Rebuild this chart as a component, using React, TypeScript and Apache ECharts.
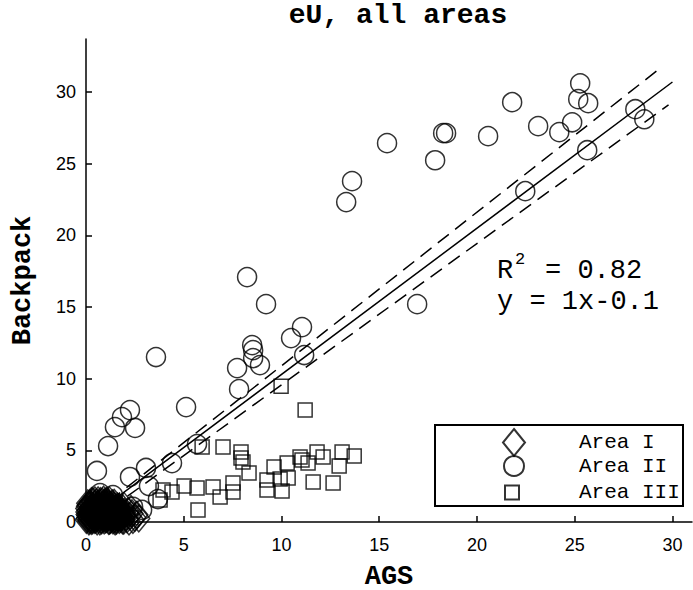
import React, { useEffect, useRef } from 'react';
import * as echarts from 'echarts';

const titleText = 'eU, all areas';
const xName = 'AGS';
const yName = 'Backpack';
const seriesNames = ['Area I', 'Area II', 'Area III'];
const xTicks = [0, 5, 10, 15, 20, 25, 30];
const yTicks = [0, 5, 10, 15, 20, 25, 30];
const r2Label = 'R';
const r2Sup = '2';
const r2Value = '= 0.82';
const eqLine = 'y = 1x-0.1';

const areaI: number[][] = [
  [0.12, 0.35], [0.18, 0.9], [0.22, 0.55], [0.25, 1.2], [0.3, 0.2], [0.33, 0.75], [0.38, 1.05],
  [0.41, 0.42], [0.45, 0.15], [0.48, 0.95], [0.5, 0.62], [0.52, 1.35], [0.55, 0.3], [0.58, 0.8],
  [0.6, 1.1], [0.63, 0.5], [0.66, 0.22], [0.68, 0.9], [0.7, 1.3], [0.72, 0.65], [0.75, 0.38],
  [0.78, 1.0], [0.8, 0.12], [0.82, 0.75], [0.85, 1.2], [0.88, 0.5], [0.9, 0.28], [0.92, 0.95],
  [0.95, 0.6], [0.98, 1.4], [1.0, 0.18], [1.02, 0.82], [1.05, 0.45], [1.08, 1.1], [1.1, 0.3],
  [1.12, 0.7], [1.15, 1.25], [1.18, 0.55], [1.2, 0.1], [1.22, 0.9], [1.25, 0.4], [1.28, 1.05],
  [1.3, 0.65], [1.33, 0.25], [1.36, 0.85], [1.4, 0.5], [1.42, 1.15], [1.45, 0.2], [1.48, 0.7],
  [1.52, 0.4], [1.55, 0.95], [1.6, 0.3], [1.65, 0.6], [1.7, 0.15], [1.75, 0.45], [1.8, 0.8],
  [1.9, 0.3], [2.0, 0.55], [2.1, 0.2], [2.25, 0.4], [2.4, 0.15], [0.15, 0.05], [0.35, 1.45],
  [0.62, 1.5], [0.9, 1.55], [1.2, 1.5], [0.05, 0.7], [0.08, 1.1], [2.3, 0.9], [2.6, 0.5],
  [2.7, 0.25], [1.95, 1.1],
  [0.07, 0.25], [0.14, 0.62], [0.2, 1.32], [0.27, 0.08], [0.29, 0.98], [0.36, 0.58], [0.43, 1.22],
  [0.47, 0.33], [0.53, 0.82], [0.57, 0.05], [0.61, 1.28], [0.64, 0.72], [0.69, 0.44], [0.73, 1.08],
  [0.77, 0.18], [0.79, 0.57], [0.83, 1.42], [0.86, 0.33], [0.89, 0.83], [0.93, 0.12], [0.97, 1.15],
  [0.99, 0.47], [1.03, 0.98], [1.06, 0.23], [1.09, 0.62], [1.13, 1.38], [1.16, 0.08], [1.19, 0.78],
  [1.23, 0.33], [1.27, 1.2], [1.31, 0.5], [1.34, 0.93], [1.38, 0.12], [1.41, 0.68], [1.44, 1.33],
  [1.47, 0.43], [1.5, 0.88], [1.54, 0.2], [1.57, 0.62], [1.62, 1.08], [1.67, 0.35], [1.72, 0.78],
  [1.78, 0.22], [1.83, 0.55], [1.88, 0.95], [1.93, 0.1], [1.97, 0.7], [2.05, 0.35], [2.15, 0.75],
  [2.2, 0.05], [2.35, 0.6], [2.5, 0.3], [0.1, 0.45], [0.16, 0.15], [0.24, 0.78], [0.31, 0.4],
  [0.4, 0.88], [0.44, 0.6], [0.51, 0.18], [0.56, 1.0], [0.65, 0.98], [0.71, 0.05], [0.76, 0.85],
  [0.84, 0.42], [0.91, 0.7], [0.96, 0.35], [1.01, 1.25], [1.07, 0.75], [1.11, 0.52], [1.17, 0.95],
  [1.21, 0.68], [1.26, 0.15], [1.32, 1.0], [1.37, 0.35], [1.43, 0.82], [1.49, 0.05], [1.53, 0.55],
  [1.58, 0.8], [1.63, 0.45], [1.68, 0.9], [1.73, 0.6], [1.82, 0.4], [1.87, 0.12], [0.04, 0.95],
  [0.09, 1.3], [0.28, 1.45], [0.46, 1.5], [0.74, 1.45], [1.05, 1.45], [1.35, 1.3],
  [0.02, 0.15], [0.06, 0.52], [0.11, 0.82], [0.13, 1.18], [0.19, 0.28], [0.21, 0.68], [0.26, 0.45],
  [0.32, 1.12], [0.34, 0.12], [0.37, 0.82], [0.42, 0.25], [0.49, 0.72], [0.54, 1.15], [0.59, 0.4],
  [0.67, 0.62], [0.81, 0.95], [0.87, 0.65], [0.94, 1.32], [1.04, 0.62], [1.14, 0.42], [1.24, 0.55],
  [1.29, 0.82], [1.39, 1.05], [1.46, 0.6], [1.56, 0.1], [1.61, 0.75], [1.71, 1.0], [1.77, 0.3]
];

const areaII: number[][] = [
  [25.28, 30.61], [25.18, 29.5], [25.69, 29.22], [21.8, 29.29], [28.1, 28.8], [28.56, 28.1],
  [23.13, 27.62], [24.21, 27.2], [24.87, 27.89], [18.27, 27.13], [18.42, 27.13], [20.57, 26.92],
  [15.4, 26.43], [25.64, 25.94], [17.86, 25.24], [22.47, 23.08], [13.61, 23.78], [13.31, 22.32],
  [8.24, 17.09], [16.94, 15.2], [9.21, 15.2], [11.05, 13.6], [10.49, 12.83], [8.5, 12.34],
  [8.55, 11.99], [8.55, 11.44], [8.9, 10.95], [7.73, 10.74], [11.16, 11.65], [7.83, 9.27],
  [3.58, 11.51], [5.12, 8.02], [2.25, 7.81], [1.84, 7.32], [1.48, 6.62], [2.51, 6.56],
  [1.13, 5.3], [5.68, 5.44], [0.56, 3.56], [4.4, 4.11], [3.07, 3.77], [2.25, 3.14],
  [3.22, 2.51], [3.68, 1.6], [2.87, 0.84], [0.72, 2.02], [1.38, 1.88], [2.41, 1.05],
  [0.9, 0.6], [0.4, 1.0], [1.6, 0.9], [2.0, 0.4]
];

const areaIII: number[][] = [
  [9.98, 9.48], [11.21, 7.81], [5.94, 5.23], [7.01, 5.23], [7.93, 4.88], [7.93, 4.46],
  [8.03, 4.18], [8.34, 3.42], [5.02, 2.51], [5.68, 2.37], [6.5, 2.44], [6.86, 1.74],
  [7.52, 2.72], [7.52, 2.09], [5.73, 0.84], [9.62, 3.84], [10.29, 4.11], [10.95, 4.53],
  [11.05, 4.32], [11.36, 4.11], [11.82, 4.88], [12.13, 4.53], [13.1, 4.88], [13.72, 4.6],
  [12.95, 3.91], [9.26, 2.93], [9.93, 3.0], [10.34, 3.07], [9.26, 2.23], [10.03, 2.16],
  [11.62, 2.79], [12.64, 2.72], [3.94, 2.23], [4.4, 2.09], [3.79, 1.53], [1.2, 0.5],
  [1.8, 0.8], [2.3, 0.3]
];

const fitLine: number[][] = [[0.3, 0.4], [30.0, 30.7]];
const upperBand: number[][] = [[0.3, 0.5], [29.5, 31.8]];
const lowerBand: number[][] = [[0.3, 0.0], [29.8, 29.1]];

const mono = "'Liberation Mono', 'Courier New', monospace";
const sans = "'Liberation Sans', Arial, sans-serif";

export default function App() {
  const ref = useRef<HTMLDivElement>(null);
  useEffect(() => {
    document.body.style.margin = '0';
    const chart = echarts.init(ref.current!, null, { renderer: 'svg' });
    const markerStyle = { color: 'transparent', borderColor: '#000', borderWidth: 1.5 };
    const axisCommon = {
      type: 'value' as const,
      nameLocation: 'middle' as const,
      nameTextStyle: { fontFamily: mono, fontWeight: 'bold' as const, fontSize: 27, color: '#000' },
      axisLine: { show: true, onZero: false, lineStyle: { color: '#000', width: 1.5 } },
      splitLine: { show: false },
    };
    const legendText = { fontFamily: mono, fontSize: 21, color: '#000' };
    const annot = { fontFamily: mono, fontSize: 27, fill: '#000', verticalAlign: 'middle', align: 'left' };
    chart.setOption({
      animation: false,
      backgroundColor: '#fff',
      title: {
        text: titleText,
        left: 393,
        top: -4,
        textAlign: 'center',
        textStyle: { fontFamily: mono, fontWeight: 'bold', fontSize: 28, color: '#000' },
      },
      grid: { left: 86, top: 39, right: 1, bottom: 68, outerBoundsMode: 'none', containLabel: false },
      xAxis: {
        ...axisCommon,
        min: 0,
        max: 31,
        name: xName,
        nameGap: 41,
        axisTick: { show: true, inside: true, length: 6, customValues: xTicks, lineStyle: { color: '#000', width: 1.5 } },
        axisLabel: { customValues: xTicks, margin: 14, fontSize: 18, fontFamily: sans, color: '#000' },
      },
      yAxis: {
        ...axisCommon,
        min: 0,
        max: 33.7,
        name: yName,
        nameGap: 50,
        axisTick: { show: true, inside: true, length: 6, customValues: yTicks, lineStyle: { color: '#000', width: 1.5 } },
        axisLabel: { customValues: yTicks, margin: 10, fontSize: 18, fontFamily: sans, color: '#000' },
      },
      legend: [
        {
          data: [seriesNames[0]], left: 502, top: 428, padding: 0, itemWidth: 22, itemHeight: 27,
          icon: 'diamond', selectedMode: false, textStyle: { ...legendText, padding: [0, 0, 0, 49] }, z: 5,
        },
        {
          data: [seriesNames[1]], left: 503, top: 455, padding: 0, itemWidth: 20, itemHeight: 20,
          icon: 'circle', selectedMode: false, textStyle: { ...legendText, padding: [0, 0, 0, 50] }, z: 5,
        },
        {
          data: [seriesNames[2]], left: 504, top: 482, padding: 0, itemWidth: 14, itemHeight: 14,
          icon: 'rect', selectedMode: false, textStyle: { ...legendText, padding: [0, 0, 0, 55] }, z: 5,
        },
      ],
      graphic: [
        {
          type: 'rect', z: 4,
          shape: { x: 435, y: 425, width: 248, height: 81 },
          style: { fill: '#fff', stroke: '#000', lineWidth: 2 },
        },
        { type: 'text', x: 497, y: 271, z: 4, style: { ...annot, text: r2Label } },
        { type: 'text', x: 515, y: 259, z: 4, style: { ...annot, fontSize: 17, text: r2Sup } },
        { type: 'text', x: 545, y: 271, z: 4, style: { ...annot, text: r2Value } },
        { type: 'text', x: 497, y: 302, z: 4, style: { ...annot, text: eqLine } },
      ],
      series: [
        { name: seriesNames[0], type: 'scatter', symbol: 'diamond', symbolSize: [22, 27], itemStyle: markerStyle, data: areaI, silent: true },
        { name: seriesNames[1], type: 'scatter', symbol: 'circle', symbolSize: 19, itemStyle: markerStyle, data: areaII, silent: true },
        { name: seriesNames[2], type: 'scatter', symbol: 'rect', symbolSize: 14, itemStyle: markerStyle, data: areaIII, silent: true },
        { type: 'line', data: fitLine, showSymbol: false, silent: true, lineStyle: { color: '#000', width: 1.5, type: 'solid' } },
        { type: 'line', data: upperBand, showSymbol: false, silent: true, lineStyle: { color: '#000', width: 1.5, type: [14, 8] } },
        { type: 'line', data: lowerBand, showSymbol: false, silent: true, lineStyle: { color: '#000', width: 1.5, type: [14, 8] } },
      ],
    });
    return () => chart.dispose();
  }, []);
  return <div ref={ref} style={{ position: 'fixed', left: 0, top: 0, width: 693, height: 590 }} />;
}
